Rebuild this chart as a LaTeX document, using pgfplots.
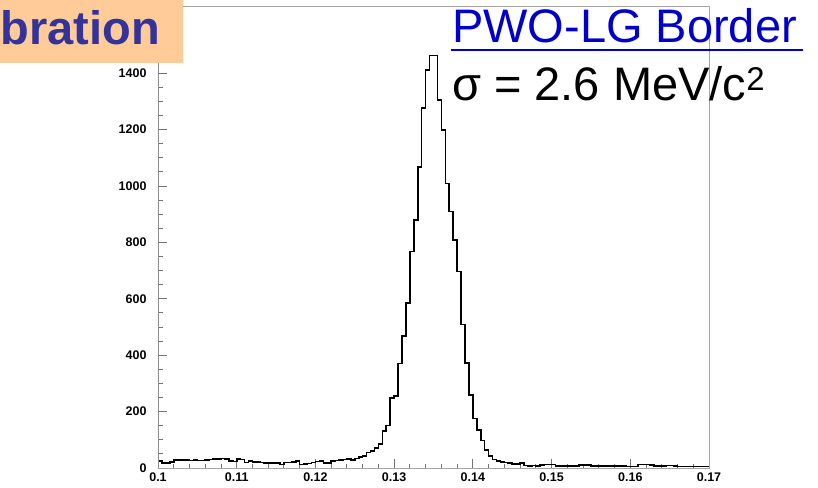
\documentclass[border=0pt]{standalone}
\usepackage{fontspec}
\setmainfont{Liberation Sans}
\usepackage{pgfplots}
\pgfplotsset{compat=1.18}
\usepackage{pgfplotstable}
\definecolor{peach}{RGB}{255,204,153}
\definecolor{navy}{RGB}{51,51,153}
\definecolor{linkblue}{RGB}{0,0,204}
\definecolor{framegray}{RGB}{165,165,165}

% invariant mass histogram, 140 bins of 0.0005, left edge and counts
\pgfplotstableread{
x y
0.1000 25
0.1005 18
0.1010 17
0.1015 21
0.1020 29
0.1025 29
0.1030 28
0.1035 28
0.1040 27
0.1045 29
0.1050 26
0.1055 27
0.1060 28
0.1065 30
0.1070 31
0.1075 32
0.1080 33
0.1085 31
0.1090 24
0.1095 23
0.1100 31
0.1105 30
0.1110 20
0.1115 24
0.1120 22
0.1125 22
0.1130 20
0.1135 17
0.1140 18
0.1145 18
0.1150 17
0.1155 13
0.1160 19
0.1165 20
0.1170 22
0.1175 24
0.1180 12
0.1185 15
0.1190 16
0.1195 19
0.1200 23
0.1205 24
0.1210 17
0.1215 18
0.1220 25
0.1225 27
0.1230 29
0.1235 30
0.1240 32
0.1245 29
0.1250 34
0.1255 38
0.1260 42
0.1265 55
0.1270 61
0.1275 70
0.1280 86
0.1285 131
0.1290 150
0.1295 248
0.1300 256
0.1305 371
0.1310 468
0.1315 584
0.1320 767
0.1325 879
0.1330 1067
0.1335 1276
0.1340 1411
0.1345 1462
0.1350 1462
0.1355 1305
0.1360 1198
0.1365 1009
0.1370 909
0.1375 808
0.1380 696
0.1385 509
0.1390 373
0.1395 259
0.1400 176
0.1405 135
0.1410 97
0.1415 64
0.1420 42
0.1425 30
0.1430 24
0.1435 22
0.1440 20
0.1445 18
0.1450 15
0.1455 15
0.1460 18
0.1465 9
0.1470 8
0.1475 9
0.1480 8
0.1485 11
0.1490 12
0.1495 13
0.1500 12
0.1505 8
0.1510 8
0.1515 7
0.1520 8
0.1525 8
0.1530 7
0.1535 11
0.1540 10
0.1545 11
0.1550 8
0.1555 8
0.1560 7
0.1565 8
0.1570 8
0.1575 7
0.1580 8
0.1585 8
0.1590 7
0.1595 6
0.1600 6
0.1605 5
0.1610 12
0.1615 13
0.1620 12
0.1625 10
0.1630 8
0.1635 7
0.1640 8
0.1645 9
0.1650 9
0.1655 8
0.1660 6
0.1665 6
0.1670 5
0.1675 6
0.1680 6
0.1685 5
0.1690 6
0.1695 6
0.1700 6
}\histo

\begin{document}
\begin{tikzpicture}
\begin{axis}[
 at={(158pt,-468pt)},anchor=south west,
 scale only axis,width=551pt,height=462pt,
 xmin=0.1,xmax=0.17,ymin=0,ymax=1638,
 xtick={0.1,0.11,0.12,0.13,0.14,0.15,0.16,0.17},
 ytick={0,200,400,600,800,1000,1200,1400},
 minor x tick num=4,minor y tick num=3,
 tick pos=left,tick align=inside,
 major tick length=9pt,minor tick length=4.5pt,
 scaled ticks=false,
 /pgf/number format/1000 sep={},
 /pgf/number format/assume math mode=true,
 axis line style={draw=framegray,line width=0.8pt},
 tick style={draw=framegray!70!black,line width=0.9pt},
 tick label style={font=\bfseries\fontsize{12.5}{13}\selectfont},
 xticklabel style={yshift=-1pt},
 yticklabel style={xshift=-8pt}]
\addplot[const plot,black,line width=1.6pt] table {\histo};
\draw[framegray!85!black,line width=2pt] (rel axis cs:0,0) -- (rel axis cs:0,1);
\end{axis}
\fill[peach] (0pt,0pt) rectangle (183pt,-63pt);
\node[anchor=base east,text=navy,inner sep=0pt,
 font=\bfseries\fontsize{47}{47}\selectfont] at (160pt,-45pt) {bration};
\node[anchor=base west,text=linkblue,inner sep=0pt,
 font=\fontsize{47}{47}\selectfont] at (452pt,-42pt) {PWO-LG Border};
\draw[linkblue,line width=2.5pt] (451pt,-50pt) -- (803pt,-50pt);
\node[anchor=base west,inner sep=0pt,
 font=\fontsize{47}{47}\selectfont] at (452pt,-100pt) {σ = 2.6 MeV/c\textsuperscript{2}};
\pgfresetboundingbox
\path[use as bounding box] (0pt,0pt) rectangle (818pt,-487pt);
\end{tikzpicture}
\end{document}
